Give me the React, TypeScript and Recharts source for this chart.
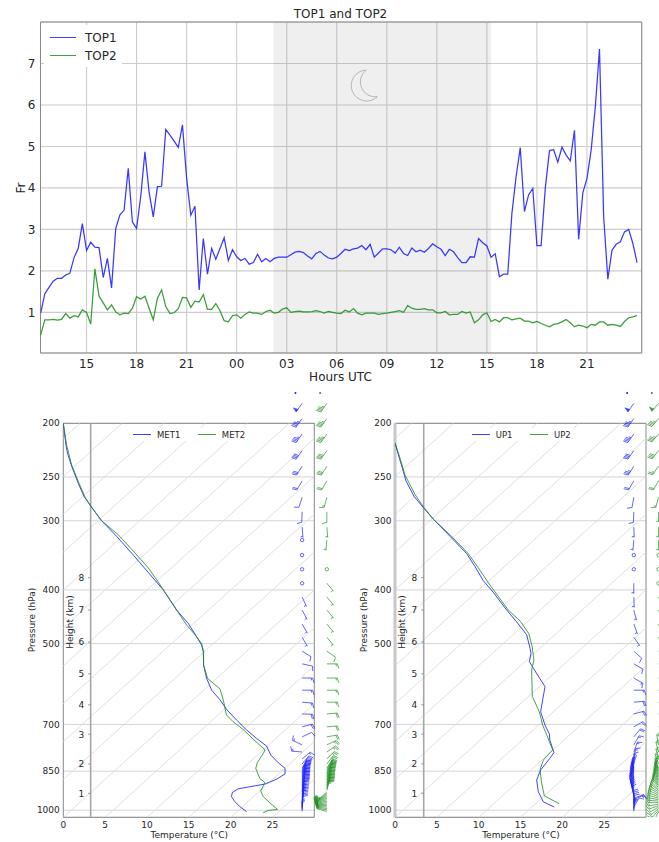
import { CartesianGrid, Legend, Line, LineChart, ReferenceArea, ReferenceDot, ReferenceLine, Scatter, ScatterChart, XAxis, YAxis } from 'recharts';

const PAGE_W = 659;
const PAGE_H = 842;
const BLUE = '#1c1cff';
const GREEN = '#1f8f1f';
const TEXT = '#262626';
const FRAME = '#888888';
const FONT = '"DejaVu Sans", sans-serif';

// ---- time series, one value every 15 min from 12:15 UTC ----
const top1 = [
  0.98, 1.45, 1.6, 1.75, 1.82, 1.82, 1.9, 1.94, 2.32, 2.54, 3.14, 2.49, 2.69, 2.57, 2.56, 1.84, 2.3, 1.59, 3.02, 3.35,
  3.46, 4.47, 3.18, 3.02, 3.8, 4.87, 3.9, 3.3, 4.03, 4.04, 5.41, 5.27, 5.13, 4.98, 5.52, 4.23, 3.34, 3.56, 1.54, 2.78,
  1.92, 2.54, 2.28, 2.54, 2.8, 2.25, 2.51, 2.34, 2.25, 2.3, 2.16, 2.2, 2.4, 2.22, 2.3, 2.22, 2.3, 2.33, 2.33, 2.33,
  2.39, 2.45, 2.47, 2.44, 2.36, 2.29, 2.42, 2.47, 2.38, 2.31, 2.29, 2.33, 2.42, 2.52, 2.49, 2.53, 2.55, 2.61, 2.51, 2.64,
  2.33, 2.43, 2.53, 2.53, 2.51, 2.43, 2.57, 2.42, 2.37, 2.55, 2.46, 2.5, 2.45, 2.54, 2.65, 2.58, 2.52, 2.37, 2.52, 2.46,
  2.32, 2.2, 2.2, 2.34, 2.33, 2.78, 2.68, 2.6, 2.33, 2.41, 1.86, 1.92, 1.92, 3.39, 4.27, 4.97, 3.43, 3.83, 3.99, 2.61,
  2.61, 3.99, 4.9, 4.92, 4.62, 4.98, 4.79, 4.65, 5.39, 2.76, 3.88, 4.23, 4.91, 5.96, 7.35, 3.31, 1.8, 2.5, 2.64, 2.7,
  2.94, 3.0, 2.66, 2.2,
];
const top2 = [
  0.45, 0.82, 0.82, 0.83, 0.81, 0.83, 0.97, 0.86, 0.92, 0.89, 1.06, 1.0, 0.72, 2.05, 1.39, 1.23, 1.06, 1.18, 1.01, 0.94,
  0.98, 0.97, 1.1, 1.38, 1.32, 1.39, 1.1, 0.82, 1.34, 1.54, 1.14, 0.97, 0.99, 1.09, 1.36, 1.35, 1.12, 1.27, 1.25, 1.43,
  1.07, 1.07, 1.21, 1.04, 0.8, 0.77, 0.92, 0.94, 0.86, 0.95, 1.01, 0.98, 0.98, 0.95, 1.02, 1.05, 0.98, 1.0, 1.08, 1.11,
  1.0, 1.02, 1.03, 1.01, 1.01, 1.02, 1.04, 1.02, 0.98, 1.02, 1.0, 0.98, 0.97, 1.05, 1.01, 1.09, 0.98, 0.94, 0.98, 0.98,
  0.98, 0.95, 0.97, 0.98, 1.0, 1.02, 1.04, 1.0, 1.16, 1.1, 1.07, 1.07, 1.09, 1.06, 1.06, 0.99, 0.99, 1.02, 0.94, 0.95,
  0.95, 1.02, 0.98, 1.01, 0.75, 0.82, 0.94, 0.99, 0.78, 0.83, 0.77, 0.87, 0.87, 0.82, 0.84, 0.86, 0.79, 0.79, 0.75, 0.78,
  0.73, 0.69, 0.65, 0.71, 0.73, 0.77, 0.83, 0.75, 0.65, 0.69, 0.67, 0.63, 0.71, 0.69, 0.77, 0.77, 0.69, 0.71, 0.69, 0.66,
  0.78, 0.87, 0.89, 0.92,
];
const hourTicks = [15, 18, 21, 24, 27, 30, 33, 36, 39, 42, 45];
const frTicks = [1, 2, 3, 4, 5, 6, 7];
const nightSpan = [26.2, 39.25];
const moonAt = { hour: 31.67, fr: 6.48 };

// ---- soundings: pressure (hPa) and temperature axis value ----
const met1P = [200, 219, 227, 239, 257, 271, 282, 300, 320, 346, 372, 400, 435, 460, 486, 503, 517, 547, 578, 607, 632, 657, 687, 716, 742, 766, 795, 821, 840, 860, 879, 897, 907, 915, 929, 945, 965, 985, 1006];
const met1T = [0, 0.32, 0.52, 1.0, 1.8, 2.47, 3.27, 4.58, 6.37, 8.37, 10.16, 11.95, 13.55, 14.94, 15.94, 16.53, 16.73, 16.77, 17.13, 17.73, 18.73, 19.5, 20.7, 21.9, 23.1, 24.3, 24.8, 25.7, 26.5, 26.5, 25.5, 24.1, 22.3, 20.9, 20.2, 20.1, 20.5, 21.1, 21.9];
const met2P = [200, 219, 238, 257, 272, 282, 300, 318, 343, 365, 387, 435, 463, 482, 500, 517, 547, 578, 604, 632, 673, 692, 715, 749, 778, 785, 820, 840, 877, 891, 923, 945, 970, 997, 1001, 1010];
const met2T = [0, 0.4, 1.0, 1.9, 2.6, 3.27, 4.58, 6.57, 8.57, 10.16, 11.35, 13.55, 14.74, 15.74, 16.53, 16.77, 16.77, 17.25, 18.73, 19.12, 19.5, 20.3, 21.5, 22.9, 24.1, 24.0, 23.2, 23.0, 23.5, 24.1, 23.6, 23.9, 24.7, 25.6, 24.5, 23.9];
const up1P = [217, 228, 241, 254, 271, 284, 298, 320, 344, 363, 385, 404, 435, 457, 482, 510, 521, 539, 554, 598, 632, 664, 702, 728, 747, 787, 806, 846, 882, 926, 966, 987];
const up1T = [0, 0.4, 0.88, 1.31, 2.27, 3.39, 4.58, 6.57, 8.57, 9.56, 10.56, 11.75, 13.35, 14.54, 15.74, 16.14, 16.25, 16.06, 16.53, 17.93, 17.65, 17.41, 17.93, 18.45, 18.5, 19.0, 18.5, 17.41, 16.93, 17.13, 17.73, 19.04];
const up2P = [217, 228, 248, 269, 283, 298, 318, 344, 365, 392, 435, 456, 480, 507, 536, 558, 623, 664, 702, 731, 778, 812, 846, 894, 942, 973];
const up2T = [0, 0.48, 1.2, 2.39, 3.39, 4.58, 6.57, 8.76, 9.96, 11.35, 13.55, 15.0, 16.0, 16.4, 16.6, 16.33, 16.41, 17.25, 17.65, 18.13, 18.84, 17.73, 17.33, 17.53, 17.85, 19.6];

const pressureTicks = [200, 250, 300, 400, 500, 700, 850, 1000];
const tempTicks = [0, 5, 10, 15, 20, 25];
const heightKm = [1, 2, 3, 4, 5, 6, 7, 8];
const heightP = [932, 825, 729, 645, 567, 497, 435, 380];
const isothermBase = [-50, -45, -40, -35, -30, -25, -20, -15, -10, -5, 0, 5, 10, 15, 20, 25];
const ISOTHERM_SKEW = 52;
const P_TOP = 200;
const P_BOTTOM = 1030;
const T_MAX = 30;

// ---- wind barbs: shared levels, speed (kt, null = no barb, 0 = calm) and staff direction (deg, screen, ccw from east) ----
const barbLevels = [
  184, 196, 209, 224, 239, 254, 272, 289, 308, 325, 346, 367, 389, 412, 435, 461, 487, 516, 544, 577, 607, 638, 670, 707, 737, 762, 785, 808, 825,
  839, 844, 850, 855, 860, 866, 871, 877, 882, 888, 893, 899, 904, 910, 916, 921, 927, 933, 939, 945, 951, 957, 963, 969, 975, 981, 987, 993, 999, 1005,
];
const met1Speed = [
  50, 45, 45, 40, 30, 20, 10, 10, 5, 0, 0, 0, 0, 5, 5, 5, 5, 10, 10, 15, 15, 15, 20, 20, 10, 15, 15, 15, 20,
  20, 20, 20, 25, 25, 25, 25, 25, 25, 20, 20, 20, 20, 20, 20, 15, 15, 15, 15, 15, 15, 15, 10, 10, 10, 10, 10, 5, 5, 5,
];
const met1Dir = [
  235, 235, 235, 235, 238, 240, 252, 268, 275, 0, 0, 0, 0, 295, 298, 300, 300, 328, 348, 0, 0, 355, 358, 15, 25, 155, 175, 40, 50,
  62, 64, 66, 68, 70, 70, 72, 72, 72, 74, 74, 74, 75, 76, 76, 78, 78, 78, 80, 80, 80, 82, 82, 84, 84, 85, 86, 88, 88, 90,
];
const met2Speed = [
  45, 45, 45, 40, 30, 20, 15, 10, 5, 5, null, 0, 5, 5, 5, 5, 5, 10, 15, 15, 15, 15, 20, 20, 20, 25, 25, 25, 25,
  25, 25, 25, 25, 25, 25, 25, 25, 25, 25, 25, 25, 25, 25, 25, 25, 20, 20, 20, 20, 20, 20, 20, 20, 20, 20, 20, 20, 20, 20,
];
const met2Dir = [
  235, 235, 235, 235, 238, 240, 255, 270, 275, 265, 0, 0, 310, 310, 310, 310, 310, 325, 0, 0, 0, 0, 5, 5, 10, 25, 35, 45, 52,
  58, 60, 62, 64, 66, 67, 68, 69, 70, 71, 72, 72, 73, 74, 75, 75, 222, 216, 210, 205, 200, 196, 192, 188, 184, 180, 176, 172, 168, 165,
];
const up1Speed = [
  50, 45, 45, 40, 35, 20, 10, 10, 5, 5, 0, 0, 5, 5, 5, 5, 5, 10, 10, 15, 15, 20, 20, 20, 20, 15, 15, 15, 15,
  15, 15, 15, 15, 15, 15, 15, 15, 15, 15, 15, 15, 15, 15, 15, 15, 15, 15, 15, 15, 15, 15, 10, 10, 10, 10, 10, 5, 5, 5,
];
const up1Dir = [
  235, 235, 235, 235, 238, 240, 260, 268, 272, 265, 0, 0, 270, 272, 285, 290, 305, 318, 330, 330, 0, 5, 15, 30, 50, 60, 70, 80, 90,
  98, 100, 102, 105, 106, 108, 110, 110, 112, 112, 114, 115, 115, 114, 112, 110, 108, 106, 104, 100, 20, 25, 92, 90, 88, 85, 60, 80, 85, 90,
];
const up2Speed = [
  50, 45, 45, 40, 25, 20, 15, 5, 5, 5, 0, 0, 0, 5, 5, 5, 5, 10, 15, 15, 15, 15, 20, 20, 20, 15, 15, 15, 15,
  15, 15, 15, 15, 15, 15, 15, 15, 15, 15, 15, 15, 15, 15, 15, 15, 15, 15, 15, 15, 15, 15, 15, 15, 15, 15, 15, 15, 15, 15,
];
const up2Dir = [
  230, 230, 230, 232, 235, 240, 255, 270, 270, 270, 0, 0, 0, 290, 290, 290, 290, 320, 0, 0, 0, 0, 0, 0, 0, 100, 105, 105, 110,
  110, 110, 112, 113, 115, 116, 118, 118, 120, 122, 124, 126, 128, 130, 135, 140, 145, 150, 155, 160, 165, 170, 175, 180, 190, 200, 210, 220, 230, 245,
];
const BLUE_COLUMN_T = 28.5;
const GREEN_COLUMN_T = 31.45;
const BARB_P_TOP = 170.5;
const BARB_T_MAX = 35.8;
// tiny leftovers of the barb cut off by the top of the figure
const speckP = 176.3;
const speckBlueT = 27.7;
const speckGreenT = 30.65;

const hourLabel = (h: number) => String(h % 24).padStart(2, '0');

const profile = (ps: number[], ts: number[]) => ps.map((p, i) => ({ p, t: ts[i] }));

function barbRows(speeds: (number | null)[], dirs: number[], t: number) {
  return barbLevels
    .map((p, i) => ({ p, t, speed: speeds[i], dir: dirs[i] }))
    .filter(b => b.speed !== null);
}

function Barb(props: any) {
  const { cx, cy, payload, fill } = props;
  const { speed, dir } = payload;
  const color = fill;
  if (speed === 0) {
    return <circle cx={cx} cy={cy} r={1.7} fill="none" stroke={color} strokeWidth={0.8} opacity={0.85} />;
  }
  const len = 10.5;
  const fullLen = 4.8;
  const a = (dir * Math.PI) / 180;
  const ux = Math.cos(a);
  const uy = -Math.sin(a);
  const nx = -uy;
  const ny = ux;
  let d = `M${cx} ${cy}L${cx + ux * len} ${cy + uy * len}`;
  let pos = len;
  let left = speed;
  let flags = '';
  while (left >= 50) {
    const bx = cx + ux * pos;
    const by = cy + uy * pos;
    const ex = cx + ux * (pos - 3.4);
    const ey = cy + uy * (pos - 3.4);
    flags += `M${bx} ${by}L${ex} ${ey}L${(bx + ex) / 2 + nx * fullLen} ${(by + ey) / 2 + ny * fullLen}Z`;
    pos -= 3.8;
    left -= 50;
  }
  while (left >= 10) {
    const bx = cx + ux * pos;
    const by = cy + uy * pos;
    d += `M${bx} ${by}L${bx + nx * fullLen + ux * 1.4} ${by + ny * fullLen + uy * 1.4}`;
    pos -= 1.5;
    left -= 10;
  }
  if (left >= 5) {
    if (pos === len) pos -= 1.5;
    const bx = cx + ux * pos;
    const by = cy + uy * pos;
    d += `M${bx} ${by}L${bx + nx * fullLen * 0.5 + ux * 0.7} ${by + ny * fullLen * 0.5 + uy * 0.7}`;
  }
  return (
    <g opacity={0.85}>
      <path d={d} fill="none" stroke={color} strokeWidth={0.8} />
      {flags && <path d={flags} fill={color} stroke={color} strokeWidth={0.4} />}
    </g>
  );
}

const Speck = (props: any) => <circle cx={props.cx} cy={props.cy} r={1} fill={props.fill} />;

const Moon = ({ cx, cy }: any) => (
  <path
    d={`M${cx + 1.5} ${cy - 15}A15.5 15.5 0 1 0 ${cx + 12.8} ${cy + 11.7}A15 15 0 0 1 ${cx + 1.5} ${cy - 15}Z`}
    fill="none"
    stroke="#a8a8a8"
    strokeWidth={0.8}
  />
);

function legendContent(size: number, handle: number, gap: number, rowHeight: number, row: boolean) {
  return ({ payload }: any) => (
    <div style={{ display: 'flex', flexDirection: row ? 'row' : 'column', background: '#fff', fontSize: size, color: TEXT, whiteSpace: 'nowrap' }}>
      {(payload || []).map((it: any) => (
        <div key={it.value} style={{ display: 'flex', alignItems: 'center', height: rowHeight, marginRight: row ? 17.5 : 0 }}>
          <span style={{ width: handle, height: 0, borderTop: `1px solid ${it.color}`, opacity: 0.85, marginRight: gap }} />
          {it.value}
        </div>
      ))}
    </div>
  );
}

function TopPanel() {
  const rows = top1.map((v, i) => ({ hour: 12.25 + i * 0.25, top1: v, top2: top2[i] }));
  return (
    <LineChart width={PAGE_W} height={PAGE_H} data={rows} margin={{ top: 22, right: 17.3, bottom: 469, left: 0 }}>
      <CartesianGrid stroke="#cccccc" strokeWidth={1.1} />
      <ReferenceArea x1={nightSpan[0]} x2={nightSpan[1]} y1={0.02} y2={8} fill="#808080" fillOpacity={0.13} stroke="none" />
      <XAxis
        dataKey="hour"
        type="number"
        domain={[12.24, 48.28]}
        allowDataOverflow
        ticks={hourTicks}
        interval={0}
        tickFormatter={hourLabel}
        tick={{ fontSize: 12, fill: TEXT }}
        tickLine={false}
        tickSize={0}
        axisLine={false}
        tickMargin={6}
        height={20}
      />
      <YAxis
        type="number"
        domain={[0.02, 8]}
        allowDataOverflow
        ticks={frTicks}
        interval={0}
        tick={{ fontSize: 12, fill: TEXT }}
        tickLine={false}
        tickSize={0}
        axisLine={false}
        tickMargin={5}
        width={40.5}
      />
      <ReferenceDot x={moonAt.hour} y={moonAt.fr} shape={Moon} ifOverflow="visible" />
      <Line dataKey="top1" name="TOP1" stroke={BLUE} strokeWidth={1.25} strokeOpacity={0.88} dot={false} isAnimationActive={false} />
      <Line dataKey="top2" name="TOP2" stroke={GREEN} strokeWidth={1.25} strokeOpacity={0.88} dot={false} isAnimationActive={false} />
      <ReferenceArea x1={12.24} x2={48.28} y1={0.02} y2={8} fill="none" stroke={FRAME} strokeWidth={1} />
      <Legend
        layout="horizontal"
        verticalAlign="middle"
        align="center"
        wrapperStyle={{ left: 44, top: 25, width: 78, height: 42, background: '#fff', paddingLeft: 6, paddingTop: 4, boxSizing: 'border-box' }}
        content={legendContent(12, 26, 9, 17.8, false)}
      />
      <text x={340.5} y={17.5} textAnchor="middle" fontSize={12} fill={TEXT}>TOP1 and TOP2</text>
      <text x={340.5} y={381} textAnchor="middle" fontSize={12} fill={TEXT}>Hours UTC</text>
      <text x={24.5} y={188} textAnchor="middle" fontSize={12} fill={TEXT} transform="rotate(-90 24.5 188)">Fr</text>
    </LineChart>
  );
}

function HeightTick({ y, payload, lineX }: any) {
  const km = heightKm[heightP.indexOf(payload.value)];
  return (
    <g>
      <line x1={lineX - 2.5} x2={lineX} y1={y} y2={y} stroke="#777" strokeWidth={0.7} />
      <text x={lineX - 6.5} y={y + 3.3} textAnchor="end" fontSize={9} fill={TEXT}>{km}</text>
    </g>
  );
}

interface SkewProps {
  left: number;
  names: string[];
  series: { p: number; t: number }[][];
  heightT: number;
  thickLeft?: boolean;
  legendLeft: number;
  legendWidth: number;
}

function SkewPanel({ left, names, series, heightT, thickLeft, legendLeft, legendWidth }: SkewProps) {
  const right = PAGE_W - (left + 251);
  const lineX = left + heightT * 8.367;
  return (
    <LineChart width={PAGE_W} height={PAGE_H} margin={{ top: 423.3, right, bottom: 4.7, left: left - 40 }}>
      <CartesianGrid vertical={false} stroke="#d4d4d4" strokeWidth={1} />
      <XAxis
        dataKey="t"
        type="number"
        domain={[0, T_MAX]}
        allowDataOverflow
        ticks={tempTicks}
        interval={0}
        tick={{ fontSize: 9, fill: TEXT }}
        tickLine={false}
        tickSize={0}
        axisLine={false}
        tickMargin={4}
        height={20}
      />
      <YAxis
        dataKey="p"
        type="number"
        scale="log"
        reversed
        domain={[P_TOP, P_BOTTOM]}
        allowDataOverflow
        ticks={pressureTicks}
        interval={0}
        tick={{ fontSize: 9, fill: TEXT }}
        tickLine={false}
        tickSize={0}
        axisLine={false}
        tickMargin={3.5}
        width={40}
      />
      <YAxis
        yAxisId="km"
        mirror
        type="number"
        scale="log"
        reversed
        domain={[P_TOP, P_BOTTOM]}
        allowDataOverflow
        ticks={heightP}
        interval={0}
        tick={(p: any) => <HeightTick {...p} lineX={lineX} />}
        tickLine={false}
        axisLine={false}
      />
      {isothermBase.map(b => (
        <ReferenceLine
          key={b}
          segment={[{ x: b, y: P_BOTTOM }, { x: b + ISOTHERM_SKEW, y: P_TOP }]}
          stroke="#dcdcdc"
          strokeWidth={0.9}
          ifOverflow="hidden"
        />
      ))}
      <ReferenceLine x={heightT} stroke="#a6a6a6" strokeWidth={1.6} />
      {thickLeft && <ReferenceLine x={0} stroke="#c8c8c8" strokeWidth={3} />}
      <Line data={series[0]} dataKey="p" name={names[0]} stroke={BLUE} strokeWidth={0.95} strokeOpacity={0.88} dot={false} isAnimationActive={false} />
      <Line data={series[1]} dataKey="p" name={names[1]} stroke={GREEN} strokeWidth={0.95} strokeOpacity={0.88} dot={false} isAnimationActive={false} />
      <ReferenceArea x1={0} x2={T_MAX} y1={P_TOP} y2={P_BOTTOM} fill="none" stroke={FRAME} strokeWidth={1} />
      <Legend
        layout="horizontal"
        verticalAlign="middle"
        align="center"
        wrapperStyle={{ left: legendLeft, top: 428, width: legendWidth, height: 13 }}
        content={legendContent(8.5, 18, 6, 13, true)}
      />
      <text x={left - 28.5} y={620} textAnchor="middle" fontSize={9} fill={TEXT} transform={`rotate(-90 ${left - 28.5} 620)`}>Pressure (hPa)</text>
      <text x={left + 10} y={622} textAnchor="middle" fontSize={9} fill={TEXT} transform={`rotate(-90 ${left + 10} 622)`}>Height (km)</text>
      <text x={left + 126} y={838} textAnchor="middle" fontSize={9} fill={TEXT}>Temperature (°C)</text>
    </LineChart>
  );
}

function BarbPanel({ left, blue, green }: { left: number; blue: any[]; green: any[] }) {
  const specks = [{ p: speckP, t: speckBlueT }, { p: speckP, t: speckGreenT }];
  return (
    <ScatterChart width={PAGE_W} height={PAGE_H} margin={{ top: 385, right: PAGE_W - left - 300, bottom: 24.7, left }}>
      <XAxis dataKey="t" type="number" domain={[0, BARB_T_MAX]} allowDataOverflow hide />
      <YAxis dataKey="p" type="number" scale="log" reversed domain={[BARB_P_TOP, P_BOTTOM]} allowDataOverflow hide />
      <Scatter data={blue} fill={BLUE} shape={Barb} isAnimationActive={false} />
      <Scatter data={green} fill={GREEN} shape={Barb} isAnimationActive={false} />
      <Scatter data={specks.slice(0, 1)} fill={BLUE} shape={Speck} isAnimationActive={false} />
      <Scatter data={specks.slice(1)} fill={GREEN} shape={Speck} isAnimationActive={false} />
    </ScatterChart>
  );
}

const layer = { position: 'absolute', left: 0, top: 0 } as const;

export default function App() {
  return (
    <div style={{ position: 'absolute', left: 0, top: 0, width: PAGE_W, height: PAGE_H, overflow: 'hidden', background: '#fff', fontFamily: FONT }}>
      <div style={layer}><TopPanel /></div>
      <div style={layer}>
        <SkewPanel left={63.3} names={['MET1', 'MET2']} series={[profile(met1P, met1T), profile(met2P, met2T)]} heightT={3.27} legendLeft={133} legendWidth={125} />
      </div>
      <div style={layer}>
        <SkewPanel left={395} names={['UP1', 'UP2']} series={[profile(up1P, up1T), profile(up2P, up2T)]} heightT={3.43} thickLeft legendLeft={471.7} legendWidth={110} />
      </div>
      <div style={layer}>
        <BarbPanel left={63.3} blue={barbRows(met1Speed, met1Dir, BLUE_COLUMN_T)} green={barbRows(met2Speed, met2Dir, GREEN_COLUMN_T)} />
      </div>
      <div style={layer}>
        <BarbPanel left={395} blue={barbRows(up1Speed, up1Dir, BLUE_COLUMN_T)} green={barbRows(up2Speed, up2Dir, GREEN_COLUMN_T)} />
      </div>
    </div>
  );
}
